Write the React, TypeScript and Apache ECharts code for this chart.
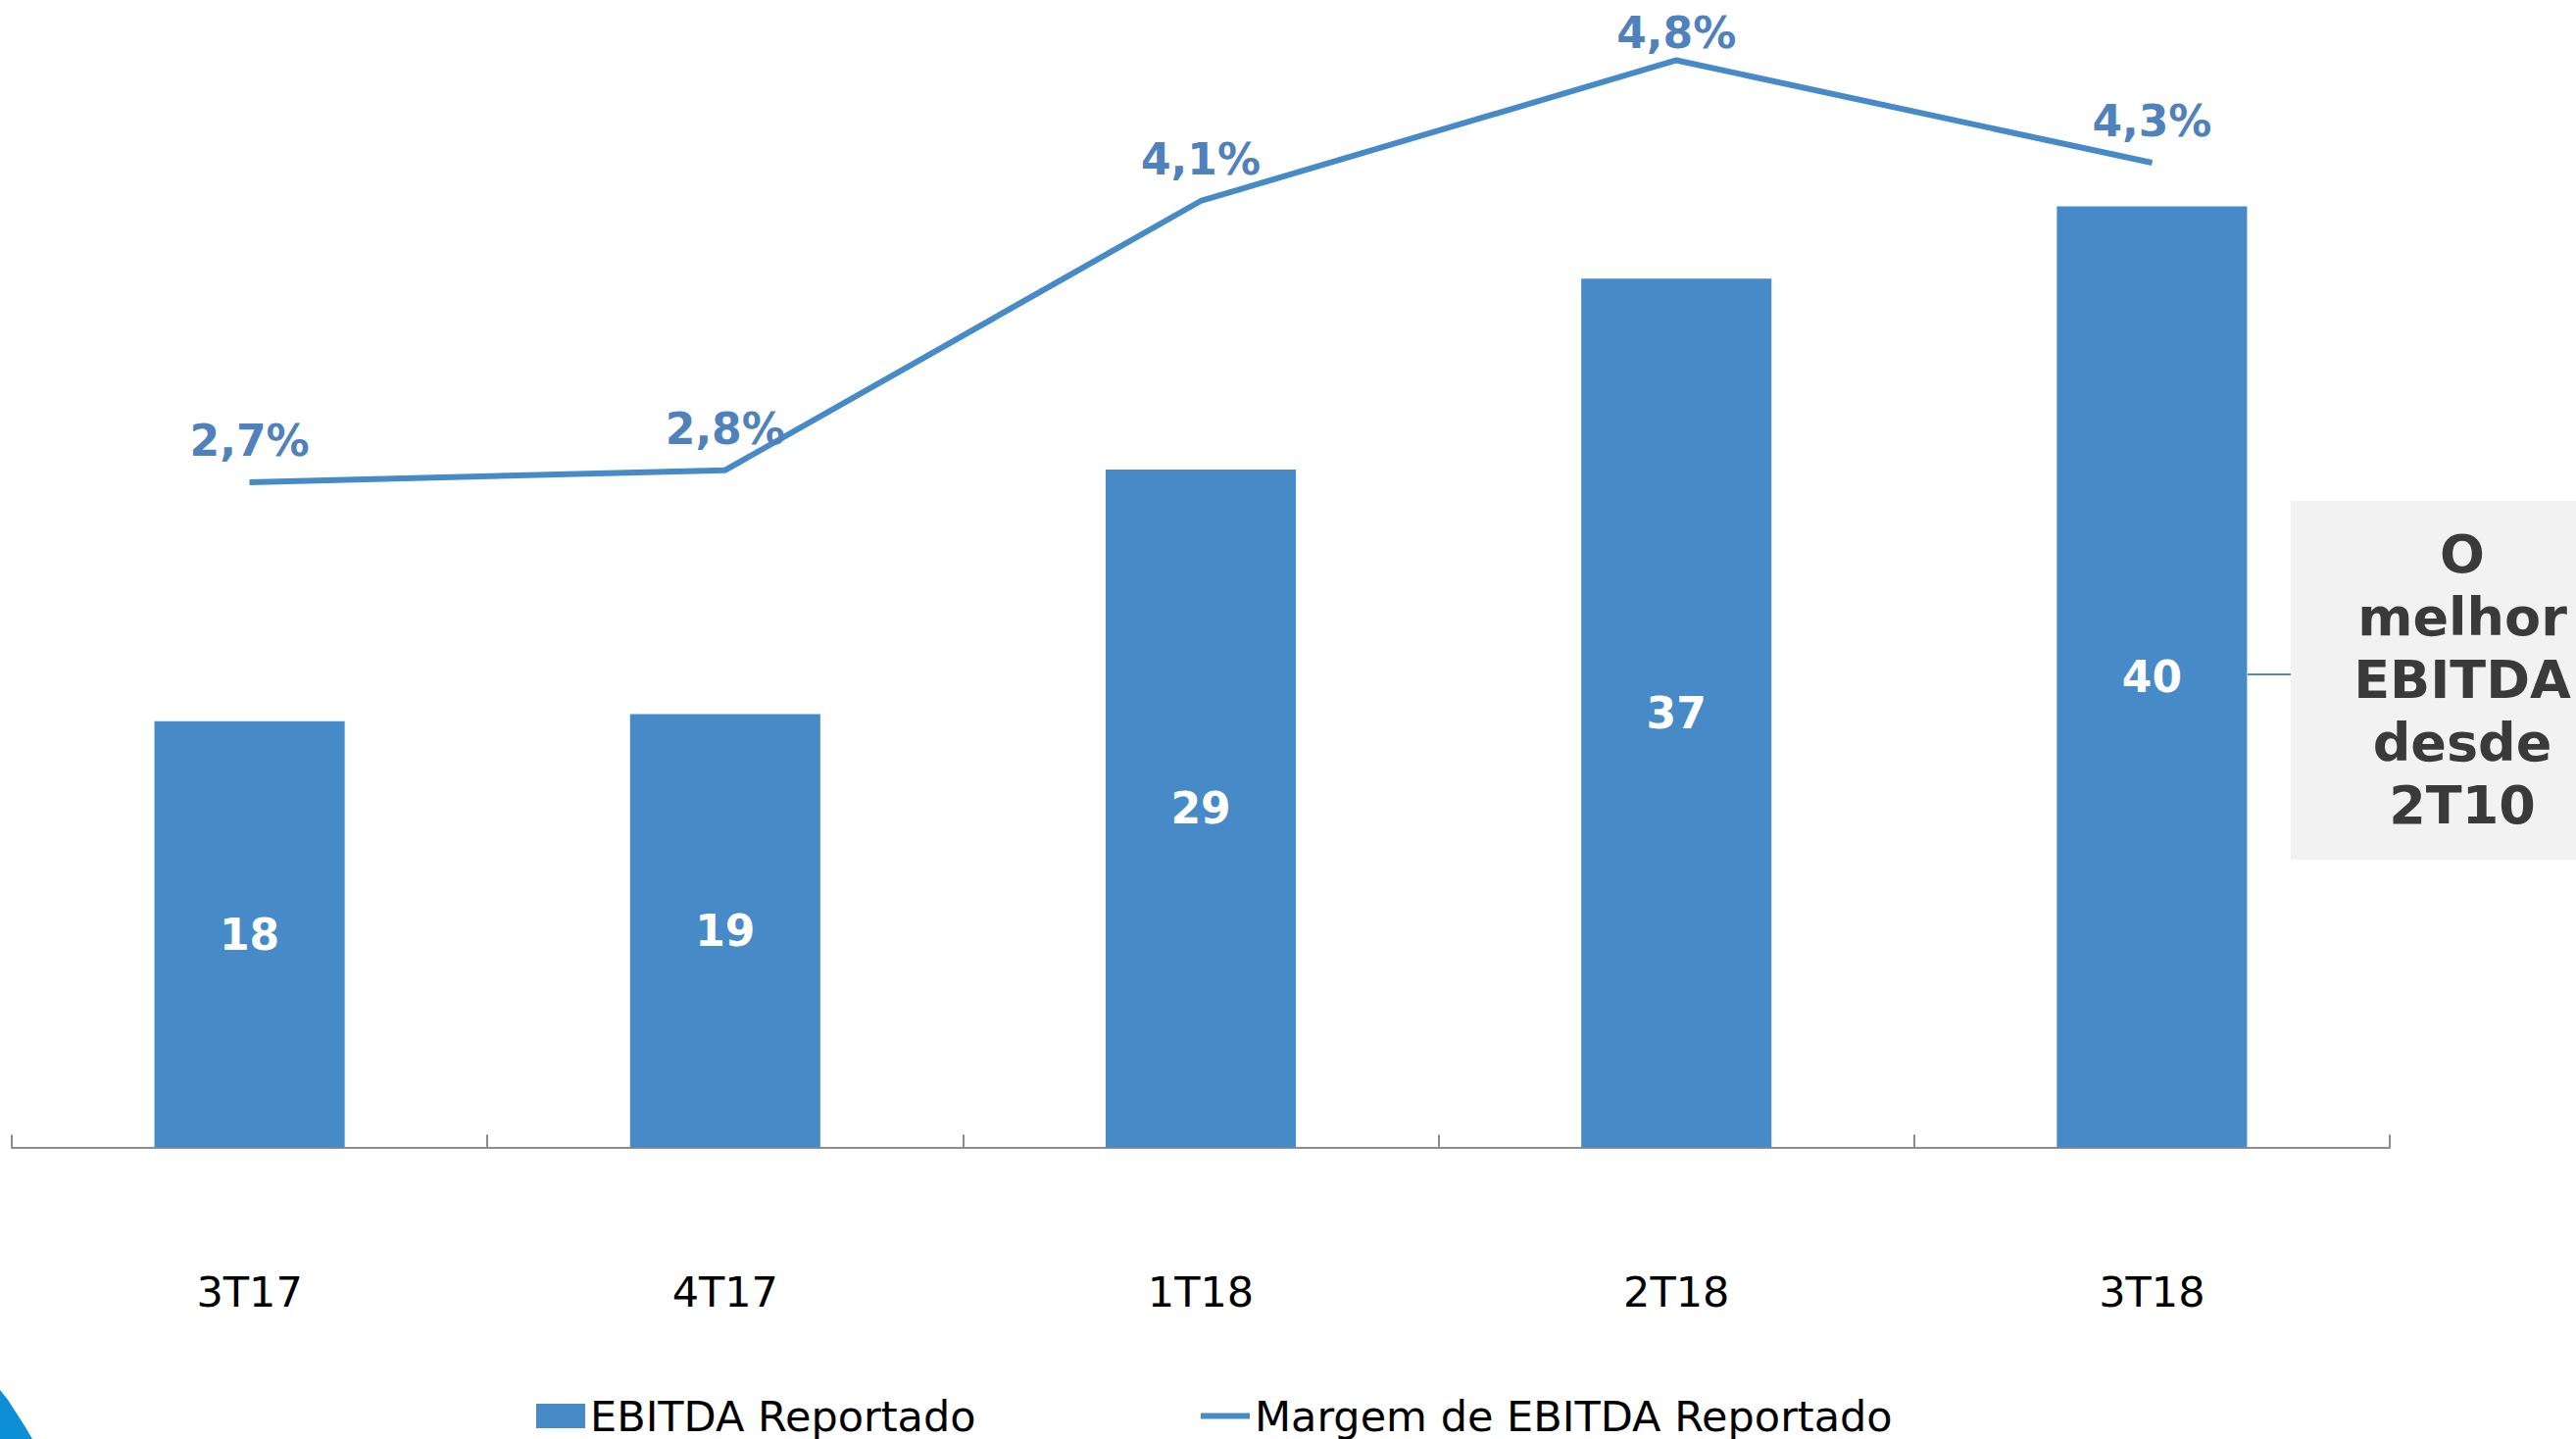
import React, { useEffect, useRef } from "react";
import * as echarts from "echarts";

const categories = ["3T17", "4T17", "1T18", "2T18", "3T18"];
const ebitdaValues = [18.3, 18.6, 29.1, 37.3, 40.4];
const marginValues = [2.7, 2.76, 4.1, 4.8, 4.29];
const barName = "EBITDA Reportado";
const lineName = "Margem de EBITDA Reportado";
const noteLines = ["O", "melhor", "EBITDA", "desde", "2T10"];

const FONT = "'DejaVu Sans', sans-serif";
const BLUE = "#468BC7";

export default function App() {
  const ref = useRef<HTMLDivElement>(null);
  useEffect(() => {
    if (!ref.current) return;
    const chart = echarts.init(ref.current, null, { renderer: "svg" });
    const peak = marginValues.indexOf(Math.max(...marginValues));
    const lineData = marginValues.map((v, i) =>
      i === peak ? { value: v, label: { distance: 5 } } : v
    );
    const legendText = { fontSize: 43, lineHeight: 43, fontFamily: FONT, color: "#000" };
    chart.setOption({
      animation: false,
      backgroundColor: "#ffffff",
      grid: { left: 12, right: 190, top: 0, bottom: 297.5, containLabel: false },
      legend: [
        {
          data: [barName],
          left: 547,
          top: 1423,
          padding: 0,
          itemWidth: 50,
          itemHeight: 25,
          icon: "rect",
          textStyle: legendText,
        },
        {
          data: [lineName],
          left: 1225,
          top: 1423,
          padding: 0,
          itemWidth: 50,
          itemHeight: 6,
          icon: "rect",
          textStyle: legendText,
        },
      ],
      xAxis: {
        type: "category",
        data: categories,
        boundaryGap: true,
        axisLine: { lineStyle: { color: "#8C8C8C", width: 2 } },
        axisTick: { show: true, inside: true, length: 13, lineStyle: { color: "#8C8C8C", width: 2 } },
        axisLabel: { margin: 126, fontSize: 43, color: "#000", fontFamily: FONT },
        splitLine: { show: false },
      },
      yAxis: [
        { type: "value", min: 0, max: 49.26, show: false, splitLine: { show: false } },
        { type: "value", min: -0.61, max: 5.1, show: false, splitLine: { show: false } },
      ],
      series: [
        {
          name: barName,
          type: "bar",
          data: ebitdaValues,
          barWidth: "40%",
          itemStyle: { color: BLUE },
          label: {
            show: true,
            position: "inside",
            formatter: (p: any) => String(Math.round(p.value)),
            color: "#ffffff",
            fontSize: 44,
            fontWeight: "bold",
            fontFamily: FONT,
          },
        },
        {
          name: lineName,
          type: "line",
          yAxisIndex: 1,
          data: lineData,
          symbol: "circle",
          symbolSize: 1,
          showSymbol: true,
          itemStyle: { color: BLUE },
          lineStyle: { color: BLUE, width: 6 },
          clip: false,
          label: {
            show: true,
            position: "top",
            distance: 20,
            formatter: (p: any) => Number(p.value).toFixed(1).replace(".", ",") + "%",
            color: "#4F81BD",
            fontSize: 44,
            fontWeight: "bold",
            fontFamily: FONT,
          },
        },
      ],
      graphic: [
        {
          type: "line",
          shape: { x1: 2293, y1: 688, x2: 2337, y2: 688 },
          style: { stroke: "#4A8AC6", lineWidth: 2 },
        },
        {
          type: "rect",
          shape: { x: 2337, y: 511, width: 300, height: 366 },
          style: { fill: "#F2F2F2" },
        },
        {
          type: "text",
          x: 2512,
          y: 693,
          style: {
            text: noteLines.join("\n"),
            align: "center",
            verticalAlign: "middle",
            fontSize: 54,
            fontWeight: "bold",
            fontFamily: FONT,
            lineHeight: 64,
            fill: "#3A3A3A",
          },
        },
        {
          type: "polygon",
          shape: {
            points: [
              [0, 1418],
              [8, 1428],
              [17, 1442],
              [26, 1456],
              [33, 1468],
              [0, 1468],
            ],
          },
          style: { fill: "#0D8FD8" },
        },
      ],
    });
    return () => chart.dispose();
  }, []);
  return (
    <div
      ref={ref}
      style={{ position: "absolute", left: 0, top: 0, width: 2628, height: 1468 }}
    />
  );
}
